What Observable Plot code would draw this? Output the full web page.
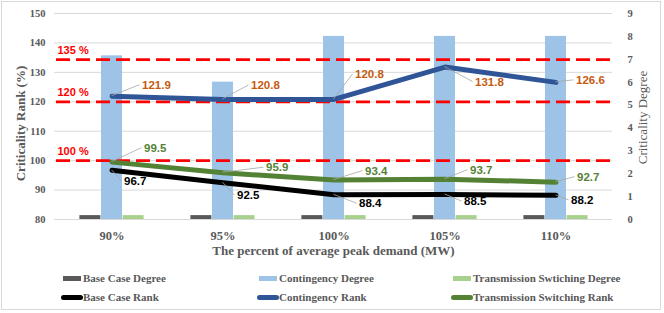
<!DOCTYPE html>
<html>
<head>
<meta charset="utf-8">
<script src="https://cdn.jsdelivr.net/npm/d3@7"></script>
<script src="https://cdn.jsdelivr.net/npm/@observablehq/plot@0.6"></script>
<style>
  body { margin: 0; background: #fff; }
  #chart { position: relative; width: 664px; height: 313px; overflow: hidden; background: #fff; }
  #frame { position: absolute; left: 1px; top: 1px; width: 660px; height: 309px; border: 1px solid #d9d9d9; box-sizing: border-box; pointer-events: none; }
  .leg-text { position: absolute; font: bold 11px "Liberation Serif", serif; color: #595959; line-height: 14px; white-space: nowrap; }
  .leg-sw { position: absolute; }
</style>
</head>
<body>
<div id="chart"><div id="frame"></div></div>
<script>
// ---- data ----
const categories = ["90%", "95%", "100%", "105%", "110%"];
const baseCaseDegree = [0.17, 0.17, 0.17, 0.17, 0.17];
const contingencyDegree = [7.15, 6, 8, 8, 8];
const switchingDegree = [0.17, 0.17, 0.17, 0.17, 0.17];
const baseCaseRank = [96.7, 92.5, 88.4, 88.5, 88.2];
const contingencyRank = [121.9, 120.8, 120.8, 131.8, 126.6];
const switchingRank = [99.5, 95.9, 93.4, 93.7, 92.7];
const thresholdValues = [134.3, 120, 100];
const thresholdLabels = ["135 %", "120 %", "100 %"];
const rankTicks = [80, 90, 100, 110, 120, 130, 140, 150];
const degreeTicks = [0, 1, 2, 3, 4, 5, 6, 7, 8, 9];
const legendLabels = ["Base Case Degree", "Contingency Degree", "Transmission Swtiching Degree",
                      "Base Case Rank", "Contingency Rank", "Transmission Switching Rank"];

// ---- styles ----
const colBaseBar = "#595959", colContBar = "#9DC3E6", colSwBar = "#A9D18E";
const colBaseLine = "#000000", colContLine = "#2F5597", colSwLine = "#548235";
const colContLabel = "#C55A11";
const grayText = "#595959";

// secondary axis (degree 0..9) mapped onto primary (rank 80..150)
const deg2y = d => 80 + d * 70 / 9;
const y2deg = v => Math.round((v - 80) * 9 / 70);

const rows = categories.map((c, i) => ({
  cat: c,
  bDeg: baseCaseDegree[i], cDeg: contingencyDegree[i], sDeg: switchingDegree[i],
  bRank: baseCaseRank[i], cRank: contingencyRank[i], sRank: switchingRank[i]
}));
const thresholds = thresholdValues.map((v, i) => ({v, label: thresholdLabels[i]}));

// label offsets (pixels, label left edge relative to point)
const labelOffsets = {
  cRank: [[30, -11], [28, -14], [21, -25], [30, 15], [20, -2]],
  sRank: [[32, -14], [43, -5], [31, -9], [25, -9], [21, -5]],
  bRank: [[12, 11], [14, 13], [25, 9], [19, 7], [15, 5]]
};
const labelColors = {cRank: colContLabel, sRank: colSwLine, bRank: "#000"};

const W = 664, H = 262;
const mL = 54, mR = 52, mT = 13, mB = 43;
const band = (W - mL - mR) / categories.length;
const barW = 21.6;
const inset = (band - barW) / 2;

const barOpts = (key, fill, dx) => Plot.barY(rows, {
  x: "cat", y1: () => deg2y(0), y2: d => deg2y(d[key]), fill,
  insetLeft: inset, insetRight: inset, dx
});

const lineOpts = (key, stroke) => Plot.lineY(rows, {
  x: "cat", y: key, stroke, strokeWidth: 5, strokeLinecap: "round", strokeLinejoin: "round"
});

const labelMarks = [];
for (const key of ["cRank", "sRank", "bRank"]) {
  rows.forEach((r, i) => {
    const [dx, dy] = labelOffsets[key][i];
    labelMarks.push(Plot.text([r], {
      x: "cat", y: key, text: d => d[key].toFixed(1), dx, dy,
      textAnchor: "start", lineAnchor: "middle",
      fill: labelColors[key], fontFamily: "Liberation Sans", fontWeight: "bold", fontSize: 11.5
    }));
  });
}

const leaders = (index, scales) => {
  const g = d3.create("svg:g");
  const bw = scales.x && scales.x.bandwidth ? scales.x.bandwidth() : 0;
  for (const key of ["cRank", "sRank", "bRank"]) {
    rows.forEach((r, i) => {
      const [dx, dy] = labelOffsets[key][i];
      const px = scales.x(r.cat) + bw / 2, py = scales.y(r[key]);
      g.append("line")
        .attr("x1", px).attr("y1", py)
        .attr("x2", px + dx - 2).attr("y2", py + dy)
        .attr("stroke", "#A6A6A6").attr("stroke-width", 0.8);
    });
  }
  return g.node();
};

const chart = Plot.plot({
  width: W, height: H,
  marginLeft: mL, marginRight: mR, marginTop: mT, marginBottom: mB,
  x: {type: "band", domain: categories, padding: 0},
  y: {domain: [80, 150]},
  style: {fontFamily: "Liberation Serif", background: "transparent", overflow: "visible"},
  marks: [
    Plot.gridY(rankTicks, {stroke: "#D9D9D9", strokeOpacity: 1, strokeWidth: 1}),
    barOpts("bDeg", colBaseBar, -barW),
    barOpts("cDeg", colContBar, 0),
    barOpts("sDeg", colSwBar, barW),
    Plot.ruleY(thresholds, {y: "v", stroke: "#FF0000", strokeWidth: 2.7, strokeDasharray: "14,6", dx: 2}),
    lineOpts("bRank", colBaseLine),
    lineOpts("cRank", colContLine),
    lineOpts("sRank", colSwLine),
    leaders,
    ...labelMarks,
    Plot.text(thresholds, {
      y: "v", text: "label", frameAnchor: "left", textAnchor: "start", lineAnchor: "middle",
      dx: 3, dy: -9, fill: "#FF0000", fontFamily: "Liberation Sans", fontWeight: "bold", fontSize: 11
    }),
    Plot.axisY(rankTicks, {anchor: "left", tickSize: 0, tickPadding: 9, fontSize: 10.5,
      fontWeight: "bold", fill: grayText, label: null}),
    Plot.axisY(degreeTicks.map(deg2y), {anchor: "right", tickSize: 0, tickPadding: 15, fontSize: 10.5,
      fontWeight: "bold", fill: grayText, label: null, tickFormat: v => String(y2deg(v))}),
    Plot.axisX({tickSize: 0, tickPadding: 12, fontSize: 12.5, fontWeight: "bold", fill: grayText, label: null}),
    Plot.text(["The percent of average peak demand (MW)"], {
      frameAnchor: "bottom", textAnchor: "middle", lineAnchor: "middle", dy: 31,
      fontSize: 13, fontWeight: "bold", fill: grayText
    }),
    Plot.text(["Criticality Rank (%)"], {
      frameAnchor: "left", textAnchor: "middle", lineAnchor: "middle", rotate: -90, dx: -34, dy: 7,
      fontSize: 13, fontWeight: "bold", fill: grayText
    }),
    Plot.text(["Criticality Degree"], {
      frameAnchor: "right", textAnchor: "middle", lineAnchor: "middle", rotate: -90, dx: 30, dy: 1,
      fontSize: 13, fill: grayText
    })
  ]
});

const host = document.getElementById("chart");
chart.style.position = "absolute";
chart.style.left = "0px";
chart.style.top = "0px";
host.insertBefore(chart, host.firstChild);

// ---- legend ----
const legCols = [62, 258, 452];
const legRows = [278, 297];
const legendItems = [
  {type: "rect", color: colBaseBar}, {type: "rect", color: colContBar}, {type: "rect", color: colSwBar},
  {type: "line", color: colBaseLine}, {type: "line", color: colContLine}, {type: "line", color: colSwLine}
];
legendItems.forEach((it, k) => {
  const x = legCols[k % 3], y = legRows[Math.floor(k / 3)];
  const sw = document.createElement("div");
  sw.className = "leg-sw";
  if (it.type === "rect") {
    Object.assign(sw.style, {left: (x + 1) + "px", top: (y - 2) + "px", width: "18px", height: "4.5px", background: it.color});
  } else {
    Object.assign(sw.style, {left: (x - 1) + "px", top: (y - 2.5) + "px", width: "22px", height: "5px", background: it.color, borderRadius: "2.5px"});
  }
  host.appendChild(sw);
  const t = document.createElement("div");
  t.className = "leg-text";
  t.textContent = legendLabels[k];
  t.style.left = (x + 21) + "px";
  t.style.top = (y - 7) + "px";
  host.appendChild(t);
});
</script>
</body>
</html>
